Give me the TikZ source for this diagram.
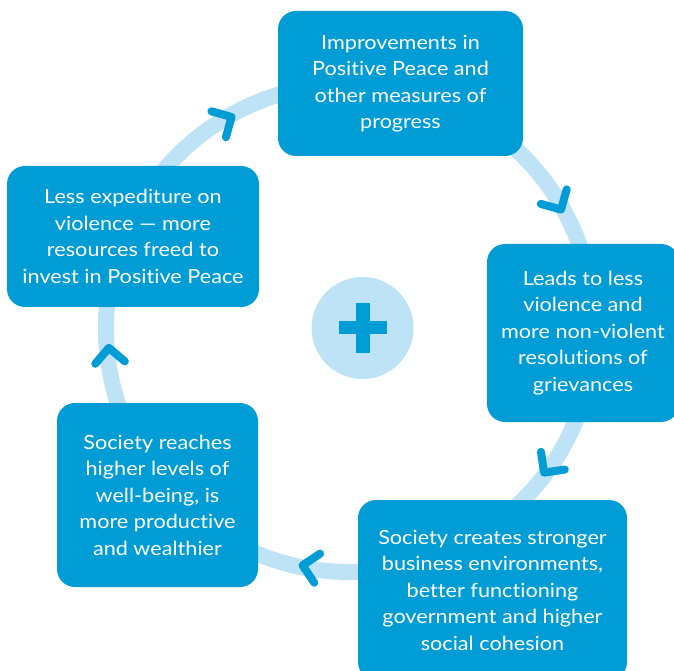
\documentclass[tikz,border=0pt]{standalone}
\usepackage{fontspec}
\setmainfont[FakeStretch=1.11, Ligatures={NoCommon,TeX}]{Lato}
\definecolor{boxblue}{HTML}{009CD6}
\definecolor{ringblue}{HTML}{BEE3F7}
\begin{document}
\begin{tikzpicture}[x=1pt,y=1pt,
  stage/.style={fill=boxblue, rounded corners=18pt, text=white, align=center,
    font=\fontsize{19.5}{26.5}\selectfont, inner sep=0pt},
  ring/.style={draw=ringblue, line width=16pt},
  chev/.style={draw=boxblue, line width=8pt, line cap=round, line join=round}]
\useasboundingbox (0,0) rectangle (674,670);
\clip (0,0) rectangle (674,670);
\coordinate (C) at (350,342);
\draw[ring] (C) circle (244);
\foreach \a in {119.3, 29.3, -36.7, -101.3, 184.7}
  \draw[chev, shift={(C)}, rotate=\a] (242,0) ++(45:21) -- (242,0) -- ++(135:21);
\node[circle, fill=ringblue, minimum size=102pt, inner sep=0pt] (hub) at (362.5,342) {};
\fill[boxblue] ([xshift=-24pt, yshift=-6.5pt]hub.center) rectangle ([xshift=24pt, yshift=6.5pt]hub.center);
\fill[boxblue] ([xshift=-7pt, yshift=-24.5pt]hub.center) rectangle ([xshift=7pt, yshift=24.5pt]hub.center);
\node[stage, minimum width=245pt, minimum height=145pt] (top) at (400.5,586.5)
  {Improvements in\\Positive Peace and\\other measures of\\progress};
\node[stage, minimum width=192pt, minimum height=178pt] (right) at (583,337)
  {Leads to less\\violence and\\more non-violent\\resolutions of\\grievances};
\node[stage, minimum width=269pt, minimum height=180pt] (botright) at (492.5,80)
  {Society creates stronger\\business environments,\\better functioning\\government and higher\\social cohesion};
\node[stage, minimum width=201pt, minimum height=184pt] (botleft) at (157.5,175)
  {Society reaches\\higher levels of\\well-being, is\\more productive\\and wealthier};
\node[stage, minimum width=252pt, minimum height=141pt] (left) at (133,433.5)
  {Less expediture on\\violence --- more\\resources freed to\\invest in Positive Peace};
\end{tikzpicture}
\end{document}
